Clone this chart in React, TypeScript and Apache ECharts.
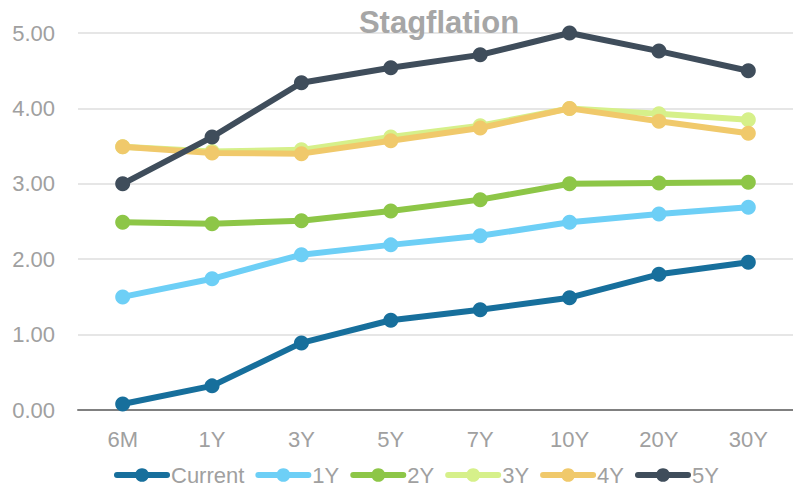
import React, { useEffect, useRef } from "react";
import * as echarts from "echarts";

const categories = ["6M", "1Y", "3Y", "5Y", "7Y", "10Y", "20Y", "30Y"];
const seriesNames = ["Current", "1Y", "2Y", "3Y", "4Y", "5Y"];
const currentVals = [0.08, 0.32, 0.89, 1.19, 1.33, 1.49, 1.8, 1.96];
const y1Vals = [1.5, 1.74, 2.06, 2.19, 2.31, 2.49, 2.6, 2.69];
const y2Vals = [2.49, 2.47, 2.51, 2.64, 2.79, 3.0, 3.01, 3.02];
const y3Vals = [3.49, 3.43, 3.45, 3.62, 3.77, 4.0, 3.93, 3.85];
const y4Vals = [3.49, 3.41, 3.4, 3.57, 3.74, 4.0, 3.83, 3.67];
const y5Vals = [3.0, 3.62, 4.34, 4.54, 4.71, 5.0, 4.76, 4.5];
const colors = ["#176f9c", "#6dcff6", "#8dc647", "#d6f08a", "#f0c96b", "#3f4d5b"];

const allVals = [currentVals, y1Vals, y2Vals, y3Vals, y4Vals, y5Vals];

export default function App() {
  const ref = useRef<HTMLDivElement>(null);
  useEffect(() => {
    if (!ref.current) return;
    const chart = echarts.init(ref.current, null, { renderer: "svg" });
    const font = "'Liberation Sans', Arial, sans-serif";
    chart.setOption({
      animation: false,
      title: {
        text: "Stagflation",
        left: 434,
        top: 2,
        textAlign: "center",
        textStyle: {
          fontFamily: font,
          fontWeight: "bold",
          fontSize: 31,
          color: "#a6a6a6",
        },
      },
      legend: {
        data: seriesNames,
        left: 109,
        top: 459,
        itemWidth: 50,
        itemHeight: 17,
        itemGap: 11,
        lineStyle: { width: 6, cap: "round" },
        textStyle: { fontFamily: font, fontSize: 22, color: "#a0a0a0", padding: [0, 0, 0, -1] },
      },
      grid: { left: 78, right: -5, top: 33, bottom: 79, containLabel: false },
      xAxis: {
        type: "category",
        data: categories,
        boundaryGap: true,
        axisLine: { lineStyle: { color: "#808080", width: 2 } },
        axisTick: { show: false },
        axisLabel: { fontFamily: font, fontSize: 22, color: "#a0a0a0", margin: 18 },
      },
      yAxis: {
        type: "value",
        min: 0,
        max: 5,
        interval: 1,
        axisLine: { show: false },
        axisTick: { show: false },
        splitLine: { lineStyle: { color: "#e6e6e6", width: 2 } },
        axisLabel: {
          fontFamily: font,
          fontSize: 22,
          color: "#a0a0a0",
          margin: 23,
          formatter: (v: number) => v.toFixed(2),
        },
      },
      series: seriesNames.map((name, i) => ({
        name,
        type: "line",
        data: allVals[i],
        symbol: "circle",
        symbolSize: 15,
        lineStyle: { width: 6, color: colors[i], cap: "round", join: "round" },
        itemStyle: { color: colors[i] },
        z: 2 + i,
      })),
    });
    return () => chart.dispose();
  }, []);
  return <div ref={ref} style={{ width: 793, height: 489, position: "absolute", left: 0, top: 0 }} />;
}
